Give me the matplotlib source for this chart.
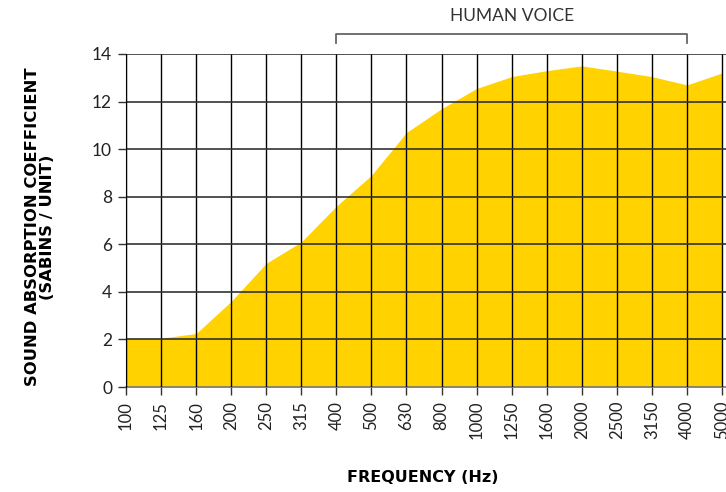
import matplotlib
matplotlib.use("Agg")
import matplotlib.pyplot as plt

FREQUENCIES = ["100", "125", "160", "200", "250", "315", "400", "500", "630",
               "800", "1000", "1250", "1600", "2000", "2500", "3150", "4000", "5000"]
ABSORPTION = [2.05, 2.05, 2.25, 3.6, 5.2, 6.1, 7.6, 8.9, 10.7,
              11.7, 12.55, 13.05, 13.3, 13.5, 13.28, 13.05, 12.7, 13.2]
Y_TICKS = [0, 2, 4, 6, 8, 10, 12, 14]
VOICE_START, VOICE_END = "400", "4000"

FILL_COLOR = "#FFD200"
FONT = ["Lato", "DejaVu Sans"]
LABEL_FONT = ["DejaVu Sans"]

plt.rcParams["font.family"] = FONT

fig = plt.figure(figsize=(7.26, 4.92), dpi=100)
ax = fig.add_axes([126 / 726, 105 / 492, 600 / 726, 333 / 492])

x = list(range(len(FREQUENCIES)))
ax.fill_between(x, ABSORPTION, 0, color=FILL_COLOR, linewidth=0, zorder=1)

ax.set_xlim(0, (len(FREQUENCIES) - 1) * 600 / 596)
ax.set_ylim(0, 14)
ax.set_xticks(x)
ax.set_xticklabels(FREQUENCIES, rotation=90, fontsize=12, color="#222222")
ax.set_yticks(Y_TICKS)
ax.set_yticklabels([str(v) for v in Y_TICKS], fontsize=12.5, color="#222222")

# grid drawn over the fill
for xi in x:
    ax.axvline(xi, color="black", linewidth=1.0, zorder=3)
for yv in Y_TICKS[1:]:
    ax.axhline(yv, color="#333333", linewidth=1.2, zorder=3)

for side in ("top", "right"):
    ax.spines[side].set_visible(False)
ax.spines["left"].set_color("black")
ax.spines["left"].set_zorder(4)
ax.spines["bottom"].set_color("#777777")
ax.spines["bottom"].set_linewidth(1.2)
ax.tick_params(axis="both", length=6, width=1.0, color="#333333", pad=4)

ax.set_ylabel("SOUND ABSORPTION COEFFICIENT\n(SABINS / UNIT)", fontsize=11.8,
              fontweight="bold", family=LABEL_FONT, linespacing=1.0)
ax.yaxis.set_label_coords((55 - 126) / 600, (387 - 227) / 333)
ax.set_xlabel("FREQUENCY (Hz)", fontsize=11.5, fontweight="bold", family=LABEL_FONT)
ax.xaxis.set_label_coords((423 - 126) / 600, -(470 - 387) / 333)

# bracket for the human voice range
x0 = FREQUENCIES.index(VOICE_START)
x1 = FREQUENCIES.index(VOICE_END)
bracket_y, bracket_drop = 14 + 20 / 23.8, 9 / 23.8
ax.plot([x0, x0, x1, x1], [bracket_y - bracket_drop, bracket_y, bracket_y, bracket_y - bracket_drop],
        color="#666666", linewidth=1.3, clip_on=False, zorder=5)
ax.text((x0 + x1) / 2, bracket_y + 10 / 23.8, "HUMAN VOICE",
        ha="center", va="bottom", fontsize=12.5, color="#333333")

fig.savefig("out.png", dpi=100)
